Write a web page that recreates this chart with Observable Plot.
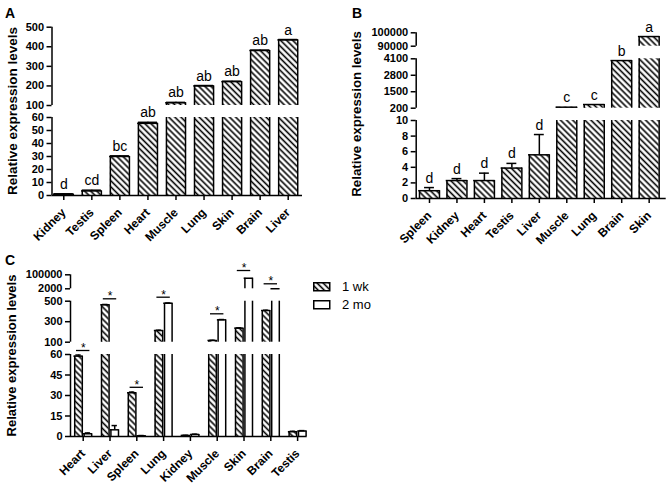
<!DOCTYPE html>
<html><head><meta charset="utf-8">
<script src="https://cdn.jsdelivr.net/npm/d3@7"></script>
<script src="https://cdn.jsdelivr.net/npm/@observablehq/plot@0.6"></script>
<style>
body{margin:0;background:#fff;}
#wrap{position:relative;width:668px;height:488px;overflow:hidden;font-family:"Liberation Sans",Arial,sans-serif;color:#000;}
.panel{position:absolute;}
.plabel{position:absolute;font-weight:bold;font-size:14px;line-height:1;}
.leg{position:absolute;font-size:13px;line-height:1;}
</style></head><body>
<svg width="0" height="0" style="position:absolute"><defs>
<pattern id="hatch" patternUnits="userSpaceOnUse" width="4.3" height="4.3" patternTransform="rotate(-45)">
<rect width="4.3" height="4.3" fill="white"/>
<line x1="2.15" y1="-1" x2="2.15" y2="5.3" stroke="black" stroke-width="1.6"/>
</pattern></defs></svg>
<div id="wrap">
  <div class="panel" id="pA" style="left:0;top:0"></div>
  <div class="panel" id="pB" style="left:334px;top:0"></div>
  <div class="panel" id="pC" style="left:0;top:250px"></div>
  <div class="plabel" style="left:5px;top:6px">A</div>
  <div class="plabel" style="left:352px;top:6px">B</div>
  <div class="plabel" style="left:5px;top:253px">C</div>
  <svg class="leg" style="left:313px;top:281.5px" width="18" height="10"><rect x="0.75" y="0.75" width="16" height="8" fill="url(#hatch)" stroke="black" stroke-width="1.5"/></svg>
  <svg class="leg" style="left:313px;top:299.5px" width="18" height="10"><rect x="0.75" y="0.75" width="16" height="8" fill="white" stroke="black" stroke-width="1.5"/></svg>
  <div class="leg" id="leg1" style="left:342px;top:279.6px"></div>
  <div class="leg" id="leg2" style="left:342px;top:297.8px"></div>
</div>
<script>
// ---------- Data ----------
const catsA = ["Kidney","Testis","Spleen","Heart","Muscle","Lung","Skin","Brain","Liver"];
const valsA = [1.0, 3.5, 30, 55.5, 114, 200, 222, 381, 435];
const errsA = [0.3, 0.6, 0.5, 0.8, 2, 2, 2, 2, 2];
const lettersA = ["d","cd","bc","ab","ab","ab","ab","ab","a"];
const ticksA = [0,10,20,30,40,50,60,100,200,300,400,500];
const segsA = [[0,60],[100,500]];

const catsB = ["Spleen","Kidney","Heart","Testis","Liver","Muscle","Lung","Brain","Skin"];
const valsB = [1.0, 2.3, 2.3, 3.9, 5.6, 280, 490, 3960, 97200];
const errsB = [0.4, 0.25, 0.95, 0.6, 2.6, 0, 0, 0, 0];
const lettersB = ["d","d","d","d","d","c","c","b","a"];
const ticksB = [0,2,4,6,8,10,200,1500,2800,4100,90000,100000];
const segsB = [[0,10],[200,4100],[90000,100000]];

const catsC = ["Heart","Liver","Spleen","Lung","Kidney","Muscle","Skin","Brain","Testis"];
const seriesC = ["1 wk","2 mo"];
const wk1 = [58.8, 465, 32, 214, 0.8, 117, 237, 409, 3.5];
const mo2 = [2.0, 4.9, 0.5, 480, 1.5, 318, 76000, 2500, 4.0];
const errWk1 = [0.8, 3, 0.5, 3, 0.1, 2, 3, 3, 0.3];
const errMo2 = [0.6, 3.1, 0.2, 3, 0.2, 3, 0, 0, 0.3];
const sigC = [73, 790, 36, 984, null, 377, 130000, 37000, null];
const ticksC = [0,15,30,45,60,100,300,500,2000,100000];
const segsC = [[0,60],[100,500],[2000,100000]];

const yLabel = "Relative expression levels";
const FONT = '"Liberation Sans", Arial, Helvetica, sans-serif';

// ---------- helpers ----------
function pieces(vals, segs, off, hw) {
  const out = [];
  vals.forEach((v, i) => {
    segs.forEach(([lo, hi]) => {
      if (v > lo) out.push({x1: i + off - hw, x2: i + off + hw, y1: lo, y2: Math.min(v, hi), top: v <= hi});
    });
  });
  return out;
}
function barMarks(vals, segs, off, hw, fill) {
  const p = pieces(vals, segs, off, hw);
  return [
    Plot.rectY(p, {x1: "x1", x2: "x2", y1: "y1", y2: "y2", fill}),
    Plot.ruleX(p, {x: "x1", y1: "y1", y2: "y2", stroke: "black", strokeWidth: 1.5}),
    Plot.ruleX(p, {x: "x2", y1: "y1", y2: "y2", stroke: "black", strokeWidth: 1.5}),
    Plot.ruleY(p.filter(d => d.top), {y: "y2", x1: "x1", x2: "x2", stroke: "black", strokeWidth: 1.5, strokeLinecap: "square"})
  ];
}
function errMarks(vals, errs, off, cap) {
  const e = vals.map((v, i) => ({x: i + off, v, t: v + errs[i]})).filter(d => d.t > d.v);
  return [
    Plot.ruleX(e, {x: "x", y1: "v", y2: "t", stroke: "black", strokeWidth: 1.5}),
    Plot.ruleY(e, {y: "t", x1: d => d.x - cap, x2: d => d.x + cap, stroke: "black", strokeWidth: 1.5})
  ];
}
function axesMarks(segs, xdom, cats, ticks, labelOffset, labelSize) {
  return [
    Plot.ruleX(segs, {x: xdom[0], y1: d => d[0], y2: d => d[1], stroke: "black", strokeWidth: 1.5}),
    Plot.ruleY([0], {x1: xdom[0], x2: xdom[1], stroke: "black", strokeWidth: 1.5}),
    Plot.axisY({ticks, tickFormat: d => String(d), tickSize: 5, tickPadding: 3, fontSize: 11, strokeWidth: 1.5, label: null}),
    Plot.axisX({ticks: d3.range(cats.length), tickFormat: i => cats[i], tickRotate: -45, tickSize: 5, tickPadding: 10, fontSize: 12, strokeWidth: 1.5, label: null}),
    Plot.text([yLabel], {text: d => d, frameAnchor: "left", textAnchor: "middle", rotate: -90, lineAnchor: "top", dx: -labelOffset, fontSize: labelSize})
  ];
}
const style = {fontFamily: FONT, fontWeight: "bold", fontSize: "11px", background: "transparent", color: "black", overflow: "visible"};

// ---------- Panel A ----------
const xdomA = [-0.42, 8.51];
const plotA = Plot.plot({
  width: 334, height: 250,
  marginLeft: 51.5, marginRight: 32, marginTop: 26, marginBottom: 55,
  x: {type: "linear", domain: xdomA},
  y: {type: "linear", domain: [0, 60, 100, 500], range: [195, 117, 105, 26.7]},
  style,
  marks: [
    ...barMarks(valsA, segsA, 0, 0.34, "url(#hatch)"),
    ...errMarks(valsA, errsA, 0, 0.34),
    Plot.text(valsA.map((v, i) => ({i, y: v + errsA[i], t: lettersA[i]})), {x: "i", y: "y", text: "t", lineAnchor: "bottom", dy: -5, fontSize: 14, fontWeight: "normal"}),
    ...axesMarks(segsA, xdomA, catsA, ticksA, 45, 13.5)
  ]
});
document.getElementById("pA").append(plotA);

// ---------- Panel B ----------
const xdomB = [-0.484, 8.62];
const plotB = Plot.plot({
  width: 334, height: 250,
  marginLeft: 81.7, marginRight: 2.3, marginTop: 29, marginBottom: 52,
  x: {type: "linear", domain: xdomB},
  y: {type: "linear", domain: [0, 10, 200, 4100, 90000, 100000], range: [198, 120, 107.7, 58.3, 45.7, 32.3]},
  style,
  marks: [
    ...barMarks(valsB, segsB, 0, 0.364, "url(#hatch)"),
    ...errMarks(valsB, errsB, 0, 0.18),
    Plot.text(valsB.map((v, i) => ({i, y: v + errsB[i], t: lettersB[i]})), {x: "i", y: "y", text: "t", lineAnchor: "bottom", dy: -5, fontSize: 14, fontWeight: "normal"}),
    ...axesMarks(segsB, xdomB, catsB, ticksB, 65, 13.3)
  ]
});
document.getElementById("pB").append(plotB);

// ---------- Panel C ----------
const xdomC = [-0.474, 8.358];
const sigData = sigC.map((s, i) => ({i, s})).filter(d => d.s !== null);
const plotC = Plot.plot({
  width: 334, height: 238,
  marginLeft: 70, marginRight: 27.3, marginTop: 24, marginBottom: 52,
  x: {type: "linear", domain: xdomC},
  y: {type: "linear", domain: [0, 60, 100, 500, 2000, 100000], range: [186, 104, 91.7, 50.7, 38.3, 24.3]},
  style,
  marks: [
    ...barMarks(wk1, segsC, -0.1755, 0.1415, "url(#hatch)"),
    ...barMarks(mo2, segsC, 0.1755, 0.1415, "white"),
    ...errMarks(wk1, errWk1, -0.1755, 0.1),
    ...errMarks(mo2, errMo2, 0.1755, 0.1),
    Plot.ruleY(sigData, {y: "s", x1: d => d.i - 0.25, x2: d => d.i + 0.25, stroke: "black", strokeWidth: 1.3}),
    Plot.text(sigData, {x: "i", y: "s", text: () => "*", lineAnchor: "bottom", dy: 1.5, fontSize: 12, fontWeight: "normal"}),
    ...axesMarks(segsC, xdomC, catsC, ticksC, 64, 13)
  ]
});
document.getElementById("pC").append(plotC);

document.getElementById("leg1").textContent = seriesC[0];
document.getElementById("leg2").textContent = seriesC[1];
</script>
</body></html>
